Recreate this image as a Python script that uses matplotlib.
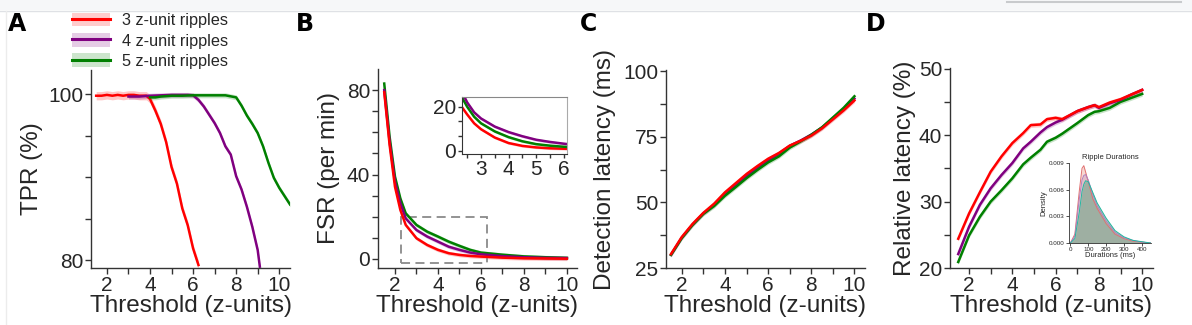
import numpy as np
import matplotlib
matplotlib.use("Agg")
import matplotlib.pyplot as plt
from matplotlib.patches import Patch, Rectangle
from matplotlib.lines import Line2D
from matplotlib.legend_handler import HandlerTuple

plt.rcParams['font.family'] = ['Liberation Sans', 'DejaVu Sans']

# ---------------- data ----------------
series_names = ["3 z-unit ripples", "4 z-unit ripples", "5 z-unit ripples"]
series_colors = ["#ff0000", "#800080", "#008000"]

# Panel A: TPR (%)
tpr_x_red = [1.5, 1.75, 2.0, 2.25, 2.5, 2.75, 3.0, 3.25, 3.5, 3.83, 4.0, 4.25, 4.5, 4.75, 5.0, 5.25, 5.5, 5.75, 6.0, 6.25]
tpr_red = [99.8, 99.8, 99.9, 99.8, 99.9, 99.8, 99.9, 99.9, 99.8, 99.8, 99.4, 98.0, 96.4, 94.2, 91.2, 89.2, 86.2, 84.2, 81.4, 79.4]
tpr_x_purple = [3.0, 3.25, 3.5, 3.75, 4.0, 4.5, 5.0, 5.5, 5.75, 6.0, 6.25, 6.5, 6.75, 7.0, 7.25, 7.5, 7.75, 8.0, 8.25, 8.5, 8.75, 9.0, 9.1]
tpr_purple = [99.7, 99.7, 99.7, 99.75, 99.8, 99.85, 99.9, 99.9, 99.9, 99.85, 99.3, 98.5, 97.5, 96.5, 95.3, 93.7, 92.7, 90.1, 88.5, 86.4, 84.0, 81.2, 79.2]
tpr_x_green = [4.0, 4.25, 4.5, 5.0, 5.5, 6.0, 6.5, 7.0, 7.5, 8.0, 8.25, 8.5, 8.75, 9.0, 9.25, 9.5, 9.75, 10.0, 10.25, 10.5]
tpr_green = [99.6, 99.6, 99.7, 99.8, 99.8, 99.85, 99.85, 99.85, 99.85, 99.6, 98.6, 97.4, 96.4, 95.3, 93.7, 91.7, 89.9, 88.7, 87.7, 86.7]

# Panel B: FSR (per min)
fsr_x = [1.5, 1.75, 2.0, 2.25, 2.5, 3.0, 3.5, 4.0, 4.5, 5.0, 5.5, 6.0, 7.0, 8.0, 9.0, 10.0]
fsr_red = [79.0, 54.0, 34.2, 23.2, 16.1, 9.8, 6.6, 4.3, 2.7, 1.9, 1.4, 1.1, 0.6, 0.3, 0.2, 0.1]
fsr_purple = [80.0, 55.5, 36.6, 26.3, 19.2, 13.7, 10.6, 8.2, 5.8, 4.3, 3.0, 2.2, 1.3, 0.8, 0.5, 0.4]
fsr_green = [83.1, 57.9, 39.0, 28.7, 21.6, 16.1, 12.9, 10.6, 8.2, 6.2, 4.3, 3.0, 2.0, 1.2, 0.8, 0.5]
# Panel B inset (zoom)
fsr_in_x = [2.3, 2.5, 2.75, 3.0, 3.5, 4.0, 4.5, 5.0, 5.5, 6.0, 6.15]
fsr_in_red = [20.0, 16.5, 12.5, 9.8, 6.0, 3.5, 2.2, 1.5, 1.1, 0.9, 0.85]
fsr_in_purple = [27.0, 22.0, 17.5, 14.7, 11.0, 8.5, 6.6, 5.0, 4.0, 3.2, 3.0]
fsr_in_green = [24.5, 20.0, 15.5, 12.5, 8.8, 6.2, 4.3, 3.0, 2.3, 1.8, 1.7]
zoom_box = (2.27, -2.0, 6.26, 20.0)  # x0, y0, x1, y1

# Panel C: detection latency (ms)
lat_x = [1.5, 2.0, 2.5, 3.0, 3.5, 4.0, 4.5, 5.0, 5.5, 6.0, 6.5, 7.0, 7.5, 8.0, 8.5, 9.0, 9.5, 10.0]
lat_red = [30.3, 36.8, 41.8, 46.0, 49.5, 53.8, 57.3, 60.8, 63.8, 66.6, 68.8, 71.6, 73.4, 75.4, 78.2, 81.6, 85.0, 88.8]
lat_purple = [30.0, 36.5, 41.5, 45.8, 49.0, 53.0, 56.5, 60.0, 63.0, 66.0, 68.5, 71.5, 73.5, 75.8, 78.5, 82.0, 85.5, 89.5]
lat_green = [30.0, 36.4, 41.4, 45.6, 48.6, 52.5, 55.8, 59.2, 62.3, 65.2, 67.5, 70.8, 73.2, 75.7, 78.6, 82.3, 86.0, 90.4]

# Panel D: relative latency (%)
rel_x = [1.5, 2.0, 2.5, 3.0, 3.5, 4.0, 4.5, 4.85, 5.3, 5.6, 6.0, 6.3, 7.0, 7.5, 7.8, 8.0, 8.5, 9.0, 9.5, 10.0]
rel_red = [24.4, 28.2, 31.4, 34.5, 36.8, 38.8, 40.3, 41.5, 41.6, 42.4, 42.6, 42.4, 43.6, 44.2, 44.5, 44.2, 44.9, 45.4, 46.1, 46.8]
rel_purple = [22.1, 26.2, 29.5, 32.0, 34.0, 35.8, 38.0, 39.0, 40.4, 41.2, 41.9, 42.3, 43.6, 44.2, 44.5, 44.1, 44.8, 45.3, 46.1, 46.8]
rel_green = [20.9, 24.9, 27.7, 30.0, 31.7, 33.5, 35.6, 36.6, 37.8, 39.0, 39.6, 40.2, 41.8, 43.0, 43.5, 43.6, 44.1, 45.0, 45.6, 46.2]

# Panel D inset: ripple duration densities
dur_ms = [0, 25, 50, 65, 75, 85, 100, 125, 150, 200, 250, 300, 350, 400, 450]
dens_red = [0.0, 0.0010, 0.0059, 0.0084, 0.0087, 0.0080, 0.0069, 0.0050, 0.0039, 0.0022, 0.0010, 0.0005, 0.0002, 0.0001, 0.0]
dens_purple = [0.0, 0.0008, 0.0050, 0.0071, 0.0076, 0.0077, 0.0071, 0.0055, 0.0042, 0.0025, 0.0012, 0.0006, 0.0003, 0.0001, 0.0]
dens_teal = [0.0, 0.0005, 0.0035, 0.0058, 0.0066, 0.0070, 0.0069, 0.0057, 0.0045, 0.0028, 0.0014, 0.0007, 0.0003, 0.00015, 0.0]
dens_colors = ["#e8735a", "#a070b0", "#3a9a6a"]
dens_alpha = [0.28, 0.25, 0.4]
dens_lines = ["#e07070", "#b080c0", "#20b8a0"]

# ---------------- figure ----------------
W, H = 1192, 325
fig = plt.figure(figsize=(W / 100, H / 100), dpi=100)

def px_axes(l, t, r, b):
    return fig.add_axes([l / W, 1 - b / H, (r - l) / W, (b - t) / H])

TXT = "#262626"
SP = "#333333"
TICK_FS = 15
LAB_FS = 17.5

def style(ax):
    for s in ("top", "right"):
        ax.spines[s].set_visible(False)
    for s in ("left", "bottom"):
        ax.spines[s].set_color(SP)
        ax.spines[s].set_linewidth(1.0)
    ax.tick_params(direction="out", length=4, width=1, colors=SP, labelcolor=TXT,
                   labelsize=TICK_FS, pad=1.5)

def xthresh(ax, xlim):
    ax.set_xlim(*xlim)
    ax.set_xticks(range(2, 11))
    ax.set_xticklabels([str(v) if v % 2 == 0 else "" for v in range(2, 11)])
    ax.set_xlabel("Threshold (z-units)", fontsize=LAB_FS, color=TXT, va="top")
    ax.xaxis.set_label_coords(0.5, -0.135)

def ylab(ax, text, xpx_right, width_px):
    ax.set_ylabel(text, fontsize=LAB_FS, color=TXT)
    ax.yaxis.set_label_coords(-xpx_right / width_px, 0.5)

def band(ax, x, y, c, hw, lw=1.8, a=0.22):
    x = np.asarray(x); y = np.asarray(y)
    ax.fill_between(x, y - hw, y + hw, color=c, alpha=a, lw=0)
    ax.plot(x, y, color=c, lw=lw)

# Panel A
axA = px_axes(91, 70, 290, 268)
style(axA)
band(axA, tpr_x_red, tpr_red, series_colors[0], 0.5)
band(axA, tpr_x_purple, tpr_purple, series_colors[1], 0.3)
band(axA, tpr_x_green, tpr_green, series_colors[2], 0.3)
xthresh(axA, (1.26, 10.5))
axA.set_ylim(79.04, 102.9)
axA.set_yticks([80, 85, 90, 95, 100])
axA.set_yticklabels(["80", "", "", "", "100"])
ylab(axA, "TPR (%)", 91 - 43, 199)

# Panel B
axB = px_axes(378, 69, 577, 268)
style(axB)
for ys, c in zip([fsr_red, fsr_purple, fsr_green][::-1], series_colors[::-1]):
    band(axB, fsr_x, ys, c, 0.9)
xthresh(axB, (1.21, 10.47))
axB.set_ylim(-4.3, 90)
axB.set_yticks(range(0, 81, 10))
axB.set_yticklabels(["0", "", "", "", "40", "", "", "", "80"])
ylab(axB, "FSR (per min)", 378 - 340, 199)
x0, y0, x1, y1 = zoom_box
axB.add_patch(Rectangle((x0, y0), x1 - x0, y1 - y0, fill=False, ls=(0, (5, 3)),
                        ec="#8a8a8a", lw=1.3, clip_on=False))

axBi = px_axes(462, 97, 567, 154)
for ys, c in zip([fsr_in_red, fsr_in_green, fsr_in_purple], [series_colors[0], series_colors[2], series_colors[1]]):
    band(axBi, fsr_in_x, ys, c, 0.6)
axBi.set_xlim(2.31, 6.12)
axBi.set_ylim(-1.5, 24.5)
for s in axBi.spines.values():
    s.set_color(SP); s.set_linewidth(0.8)
axBi.spines["top"].set_color("#888888")
axBi.spines["right"].set_color("#aaaaaa")
axBi.set_xticks(np.arange(2.5, 6.01, 0.5))
axBi.set_xticklabels(["", "3", "", "4", "", "5", "", "6"])
axBi.set_yticks([0, 20 / 3, 40 / 3, 20])
axBi.set_yticklabels(["0", "", "", "20"])
axBi.tick_params(direction="out", length=3, width=1, colors=SP, labelcolor=TXT, labelsize=TICK_FS, pad=1.5)

# Panel C
axC = px_axes(666, 70, 865, 268)
style(axC)
for ys, c in zip([lat_purple, lat_green, lat_red], [series_colors[1], series_colors[2], series_colors[0]]):
    band(axC, lat_x, ys, c, 0.8)
xthresh(axC, (1.27, 10.49))
axC.set_ylim(25, 100.4)
axC.set_yticks(np.arange(25, 100.1, 12.5))
axC.set_yticklabels(["25", "", "50", "", "75", "", "100"])
ylab(axC, "Detection latency (ms)", 666 - 616, 199)

# Panel D
axD = px_axes(950, 68, 1153, 268)
style(axD)
for ys, c in zip([rel_green, rel_purple, rel_red], [series_colors[2], series_colors[1], series_colors[0]]):
    band(axD, rel_x, ys, c, 0.35)
xthresh(axD, (1.12, 10.5))
axD.set_ylim(20, 50.1)
axD.set_yticks(range(20, 51, 5))
axD.set_yticklabels(["20", "", "30", "", "40", "", "50"])
ylab(axD, "Relative latency (%)", 950 - 916, 203)

axDi = px_axes(1069, 163, 1151, 243)
for d, c, a, lc in zip([dens_red, dens_purple, dens_teal], dens_colors, dens_alpha, dens_lines):
    axDi.fill_between(dur_ms, 0, d, color=c, alpha=a, lw=0)
    axDi.plot(dur_ms, d, color=lc, lw=0.7)
axDi.set_xlim(-8, 452)
axDi.set_ylim(0, 0.009)
axDi.set_xticks([0, 100, 200, 300, 400])
axDi.set_yticks([0, 0.003, 0.006, 0.009])
axDi.set_yticklabels(["0.000", "0.003", "0.006", "0.009"])
for s in ("top", "right"):
    axDi.spines[s].set_visible(False)
for s in ("left", "bottom"):
    axDi.spines[s].set_linewidth(0.6); axDi.spines[s].set_color(SP)
axDi.tick_params(length=2, width=0.6, labelsize=4.5, pad=1, colors=SP, labelcolor=TXT)
axDi.set_title("Ripple Durations", fontsize=5.5, color=TXT, pad=3)
axDi.set_xlabel("Durations (ms)", fontsize=5.5, color=TXT, labelpad=0)
axDi.set_ylabel("Density", fontsize=5.5, color=TXT, labelpad=1)

# Legend
LEG_FS = 11.7
handles = [(Patch(facecolor=c, alpha=0.2, lw=0), Line2D([], [], color=c, lw=2.2)) for c in series_colors]
leg = fig.legend(handles, series_names, handler_map={tuple: HandlerTuple(ndivide=1)},
                 loc="upper left", bbox_to_anchor=(72 / W, 1 - 13 / H), frameon=False,
                 fontsize=LEG_FS, handlelength=2.35, handleheight=0.9, labelspacing=0.3,
                 handletextpad=0.75, borderpad=0, borderaxespad=0)
for t in leg.get_texts():
    t.set_color(TXT)

# Panel letters
for lab, xp in zip("ABCD", [8, 296, 580, 866]):
    fig.text(xp / W, 1 - 31 / H, lab, fontsize=17, fontweight="bold", family="DejaVu Sans",
             ha="left", va="baseline", color="black")

# Screenshot chrome at top
fig.patches.append(Rectangle((0, 1 - 10 / H), 1, 10 / H, transform=fig.transFigure,
                             facecolor="#f6f7f9", edgecolor="none", zorder=-1))
fig.lines.append(Line2D([0, 1], [1 - 10.5 / H] * 2, transform=fig.transFigure, color="#dfe1e5", lw=1))
fig.lines.append(Line2D([6 / W] * 2, [0, 1 - 10.5 / H], transform=fig.transFigure, color="#ececec", lw=1))
fig.lines.append(Line2D([1007 / W, 1181 / W], [1 - 1.5 / H] * 2, transform=fig.transFigure, color="#c8cacd", lw=1.5))

fig.savefig("out.png", dpi=100)
